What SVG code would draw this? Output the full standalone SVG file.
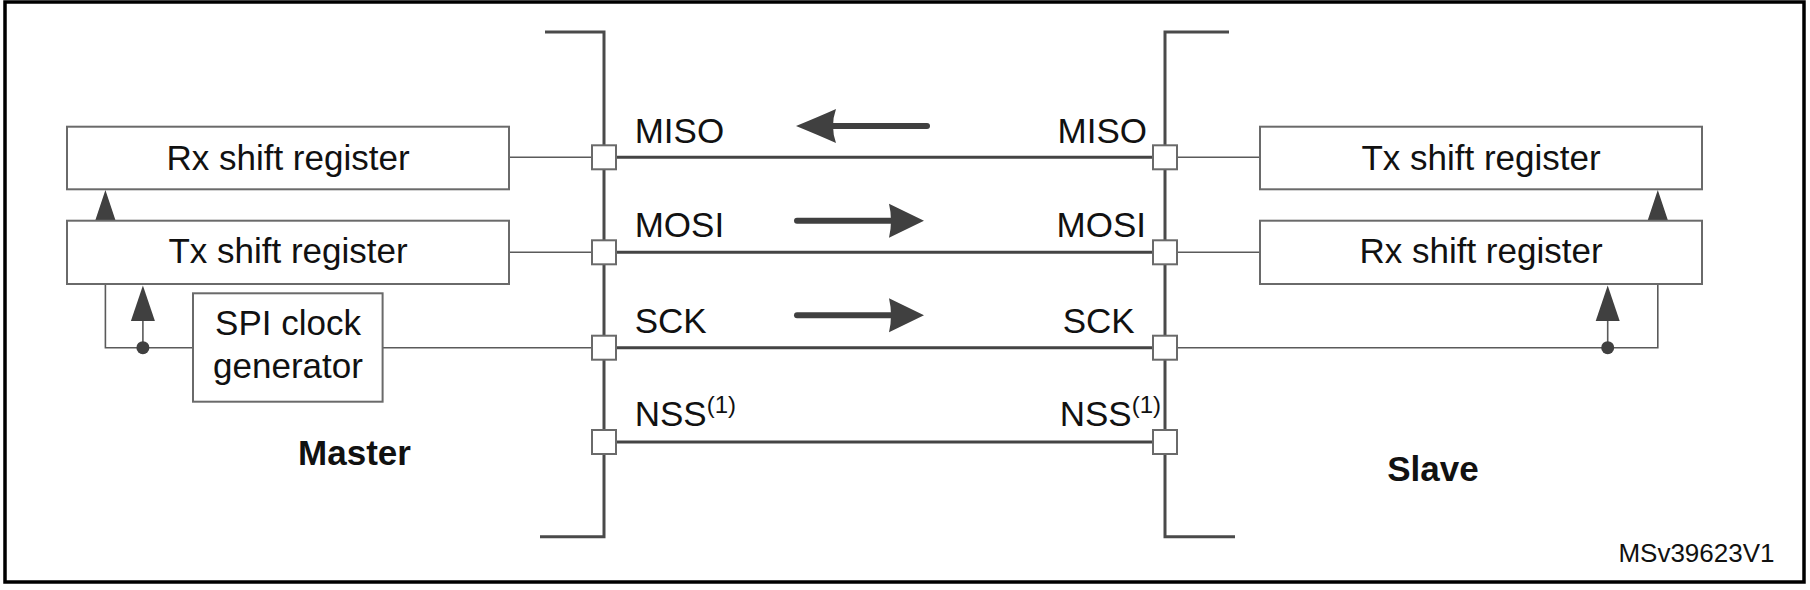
<svg xmlns="http://www.w3.org/2000/svg" width="1810" height="590" viewBox="0 0 1810 590">
<style>
text{font-family:"Liberation Sans",Arial,sans-serif;fill:#111;font-size:35px}
.b{font-weight:bold}
.sm{font-size:26px}
.box{fill:#fff;stroke:#6a6a6a;stroke-width:2}
.pin{fill:#fff;stroke:#6a6a6a;stroke-width:2}
.bracket{fill:none;stroke:#4a4a4a;stroke-width:3}
.bus{fill:none;stroke:#444;stroke-width:3}
.thin{fill:none;stroke:#5a5a5a;stroke-width:1.6}
.big{fill:none;stroke:#404040;stroke-width:6;stroke-linecap:round}
.head{fill:#404040}
</style>
<rect x="5" y="2" width="1799" height="580" fill="#fff" stroke="#000" stroke-width="3.5"/>
<g id="connectors">
<path class="bus" d="M604,157.3H1165M604,252.3H1165M604,347.7H1165M604,442H1165"/>
<path class="thin" d="M509,157.3H592M509,252.3H592M1177,157.3H1260M1177,252.3H1260"/>
<path class="thin" d="M105.4,224V347.7H193M142.9,347.7V319M382.6,347.7H592"/>
<path class="thin" d="M1177,347.7H1657.8V224M1607.7,347.7V319"/>
<circle class="head" cx="142.9" cy="347.7" r="6.5"/>
<circle class="head" cx="1607.7" cy="347.7" r="6.5"/>
<polygon class="head" points="105.4,190 93.4,226 117.4,226"/>
<polygon class="head" points="142.9,285.5 130.9,321 154.9,321"/>
<polygon class="head" points="1657.8,190 1645.8,226 1669.8,226"/>
<polygon class="head" points="1607.7,285.5 1595.7,321 1619.7,321"/>
<line class="big" x1="830" y1="126" x2="927" y2="126"/>
<path class="head" d="M796,126 Q818,117 836,109 Q830,126 836,143 Q818,135 796,126Z"/>
<line class="big" x1="797" y1="220.7" x2="892" y2="220.7"/>
<path class="head" d="M924,220.7 L889,203.7 Q893,220.7 889,237.7Z"/>
<line class="big" x1="797" y1="315.3" x2="892" y2="315.3"/>
<path class="head" d="M924,315.3 L889,298.3 Q893,315.3 889,332.3Z"/>
</g>
<g id="master-bracket"><path class="bracket" d="M545,32H604V536.7H540"/></g>
<g id="slave-bracket"><path class="bracket" d="M1229,32H1165V536.7H1235"/></g>
<g id="master-pins">
<rect class="pin" x="592" y="145.3" width="24" height="24"/>
<rect class="pin" x="592" y="240.3" width="24" height="24"/>
<rect class="pin" x="592" y="335.7" width="24" height="24"/>
<rect class="pin" x="592" y="430" width="24" height="24"/>
</g>
<g id="slave-pins">
<rect class="pin" x="1153" y="145.3" width="24" height="24"/>
<rect class="pin" x="1153" y="240.3" width="24" height="24"/>
<rect class="pin" x="1153" y="335.7" width="24" height="24"/>
<rect class="pin" x="1153" y="430" width="24" height="24"/>
</g>
<g id="master-rx"><rect class="box" x="67" y="126.7" width="442" height="62.6"/><text x="288" y="170" text-anchor="middle">Rx shift register</text></g>
<g id="master-tx"><rect class="box" x="67" y="220.7" width="442" height="63.3"/><text x="288" y="263" text-anchor="middle">Tx shift register</text></g>
<g id="spi-clock"><rect class="box" x="193" y="293.3" width="189.6" height="108.4"/><text x="288" y="335" text-anchor="middle">SPI clock</text><text x="288" y="378" text-anchor="middle">generator</text></g>
<g id="slave-tx"><rect class="box" x="1260" y="126.7" width="442" height="62.6"/><text x="1481" y="170" text-anchor="middle">Tx shift register</text></g>
<g id="slave-rx"><rect class="box" x="1260" y="220.7" width="442" height="63.3"/><text x="1481" y="263" text-anchor="middle">Rx shift register</text></g>
<g id="labels">
<text x="634.7" y="142.7">MISO</text>
<text x="634.7" y="237.3">MOSI</text>
<text x="634.7" y="332.7">SCK</text>
<text x="634.7" y="425.7">NSS<tspan font-size="24" dy="-13">(1)</tspan></text>
<text x="1147" y="142.7" text-anchor="end">MISO</text>
<text x="1146" y="237.3" text-anchor="end">MOSI</text>
<text x="1134.7" y="332.7" text-anchor="end">SCK</text>
<text x="1161" y="425.7" text-anchor="end">NSS<tspan font-size="24" dy="-13">(1)</tspan></text>
<text class="b" x="354.5" y="465" text-anchor="middle">Master</text>
<text class="b" x="1433" y="480.7" text-anchor="middle">Slave</text>
<text class="sm" x="1774.5" y="561.7" text-anchor="end">MSv39623V1</text>
</g>
</svg>
